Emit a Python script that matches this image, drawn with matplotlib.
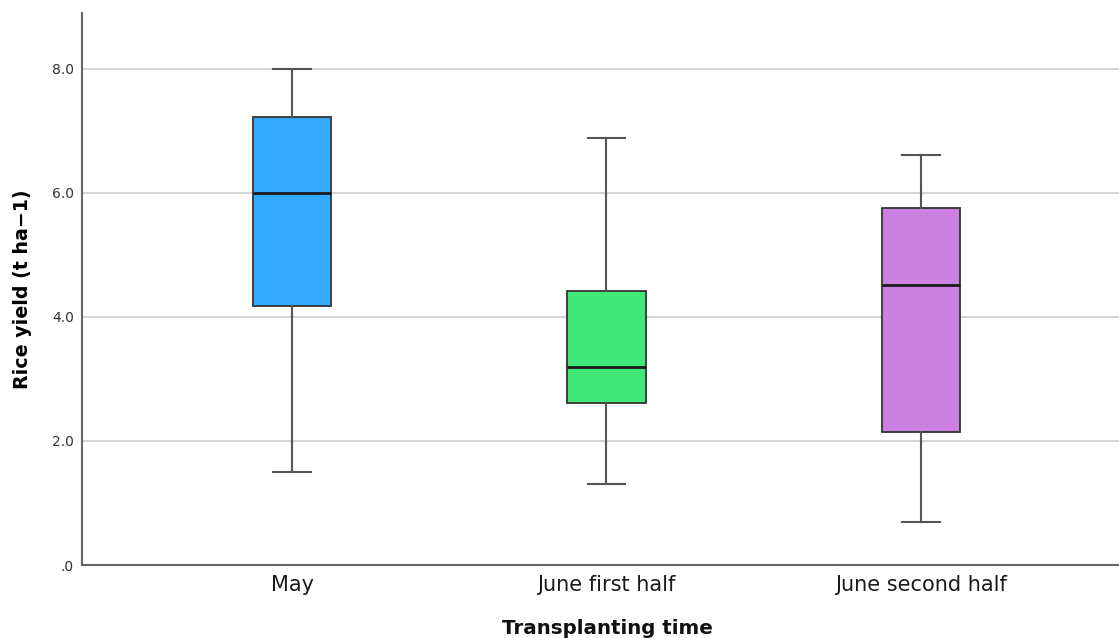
import matplotlib
matplotlib.use("Agg")
import matplotlib.pyplot as plt

# values (t ha-1)
groups = ["May", "June first half", "June second half"]
whislo = [1.50, 1.30, 0.70]
q1 = [4.18, 2.61, 2.14]
med = [6.00, 3.20, 4.52]
q3 = [7.23, 4.41, 5.76]
whishi = [8.00, 6.89, 6.61]
colors = ["#33aaff", "#40e87a", "#cc80e0"]

yticks = [0, 2, 4, 6, 8]
ytick_labels = [".0", "2.0", "4.0", "6.0", "8.0"]

plt.rcParams['font.family'] = ['DejaVu Sans']

fig = plt.figure(figsize=(11.19, 6.38), dpi=100)
ax = fig.add_axes([0.0733, 0.1144, 0.9267, 0.8652])

stats = []
for i in range(len(groups)):
    stats.append(dict(label=groups[i], whislo=whislo[i], q1=q1[i], med=med[i],
                      q3=q3[i], whishi=whishi[i], fliers=[]))

bp = ax.bxp(stats, positions=[1, 2, 3], widths=0.25, patch_artist=True,
            showfliers=False, capwidths=0.12,
            boxprops=dict(edgecolor="#333333", linewidth=1.3),
            medianprops=dict(color="#1a1a1a", linewidth=2),
            whiskerprops=dict(color="#555555", linewidth=1.5),
            capprops=dict(color="#555555", linewidth=1.5))
for patch, c in zip(bp['boxes'], colors):
    patch.set_facecolor(c)
    patch.set_zorder(3)
for k in ['medians', 'whiskers', 'caps']:
    for l in bp[k]:
        l.set_zorder(4)

ax.set_xlim(0.332, 3.63)
ax.set_ylim(0, 8.9)
ax.set_yticks(yticks)
ax.set_yticklabels(ytick_labels)
ax.yaxis.grid(True, color="#d4d4d4", linewidth=1.5)
ax.set_axisbelow(True)
ax.tick_params(axis='y', length=0, labelsize=10, labelcolor="#333333", pad=6)
ax.tick_params(axis='x', length=0, labelsize=15, labelcolor="#1a1a1a", pad=7)

for s in ['top', 'right']:
    ax.spines[s].set_visible(False)
for s in ['left', 'bottom']:
    ax.spines[s].set_color("#666666")
    ax.spines[s].set_linewidth(1.5)

ax.set_ylabel("Rice yield (t ha\u22121)", fontsize=13.7, fontweight='bold', labelpad=14)
fig.text(607 / 1119, 1 - 634 / 638, "Transplanting time", fontsize=14.3,
         fontweight='bold', ha='center', va='baseline', color="#111111")

fig.savefig("out.png", dpi=100)
